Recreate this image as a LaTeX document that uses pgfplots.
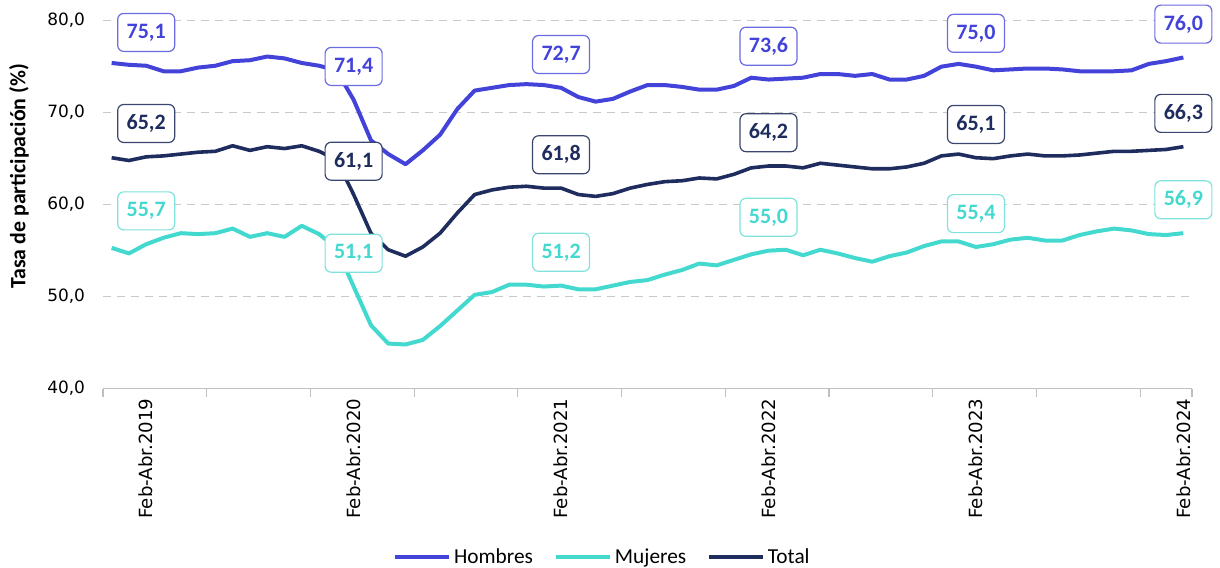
\documentclass[border=0pt]{standalone}
\usepackage{fontspec}
\setmainfont{Carlito}
\newfontfamily\tickfont{DejaVu Sans}
\usepackage{pgfplots}
\usepackage{pgfplotstable}
\pgfplotsset{compat=1.18}
\definecolor{hom}{HTML}{4343D9}
\definecolor{muj}{HTML}{44D9CF}
\definecolor{tot}{HTML}{1F2D5E}
\definecolor{homb}{HTML}{6B6BE3}
\definecolor{mujb}{HTML}{7FE3DC}
\definecolor{totb}{HTML}{3A4670}
\definecolor{gridc}{HTML}{C8C8C8}
\definecolor{axc}{HTML}{BFBFBF}

\pgfplotstableread{
x y
0 75.4
1 75.2
2 75.1
3 74.5
4 74.5
5 74.9
6 75.1
7 75.6
8 75.7
9 76.1
10 75.9
11 75.4
12 75.1
13 74.6
14 71.4
15 67.0
16 65.5
17 64.4
18 65.9
19 67.6
20 70.4
21 72.4
22 72.7
23 73.0
24 73.1
25 73.0
26 72.7
27 71.7
28 71.2
29 71.5
30 72.3
31 73.0
32 73.0
33 72.8
34 72.5
35 72.5
36 72.9
37 73.8
38 73.6
39 73.7
40 73.8
41 74.2
42 74.2
43 74.0
44 74.2
45 73.6
46 73.6
47 74.0
48 75.0
49 75.3
50 75.0
51 74.6
52 74.7
53 74.8
54 74.8
55 74.7
56 74.5
57 74.5
58 74.5
59 74.6
60 75.3
61 75.6
62 76.0
}\hombres

\pgfplotstableread{
x y
0 55.3
1 54.7
2 55.7
3 56.4
4 56.9
5 56.8
6 56.9
7 57.4
8 56.5
9 56.9
10 56.5
11 57.7
12 56.8
13 55.3
14 51.1
15 46.9
16 44.9
17 44.8
18 45.3
19 46.8
20 48.5
21 50.2
22 50.5
23 51.3
24 51.3
25 51.1
26 51.2
27 50.8
28 50.8
29 51.2
30 51.6
31 51.8
32 52.4
33 52.9
34 53.6
35 53.4
36 54.0
37 54.6
38 55.0
39 55.1
40 54.5
41 55.1
42 54.7
43 54.2
44 53.8
45 54.4
46 54.8
47 55.5
48 56.0
49 56.0
50 55.4
51 55.7
52 56.2
53 56.4
54 56.1
55 56.1
56 56.7
57 57.1
58 57.4
59 57.2
60 56.8
61 56.7
62 56.9
}\mujeres

\pgfplotstableread{
x y
0 65.1
1 64.8
2 65.2
3 65.3
4 65.5
5 65.7
6 65.8
7 66.4
8 65.9
9 66.3
10 66.1
11 66.4
12 65.8
13 64.9
14 61.1
15 56.9
16 55.1
17 54.4
18 55.4
19 56.9
20 59.1
21 61.1
22 61.6
23 61.9
24 62.0
25 61.8
26 61.8
27 61.1
28 60.9
29 61.2
30 61.8
31 62.2
32 62.5
33 62.6
34 62.9
35 62.8
36 63.3
37 64.0
38 64.2
39 64.2
40 64.0
41 64.5
42 64.3
43 64.1
44 63.9
45 63.9
46 64.1
47 64.5
48 65.3
49 65.5
50 65.1
51 65.0
52 65.3
53 65.5
54 65.3
55 65.3
56 65.4
57 65.6
58 65.8
59 65.8
60 65.9
61 66.0
62 66.3
}\total

\pgfplotstableread{
x y
2 75.1
14 71.4
26 72.7
38 73.6
50 75.0
62 76.0
}\lblhom

\pgfplotstableread{
x y
2 55.7
14 51.1
26 51.2
38 55.0
50 55.4
62 56.9
}\lblmuj

\pgfplotstableread{
x y
2 65.2
14 61.1
26 61.8
38 64.2
50 65.1
62 66.3
}\lbltot

\pgfplotsset{
  lblbox/.style n args={3}{
    forget plot, only marks, mark=none,
    nodes near coords={\pgfmathprintnumber[fixed,fixed zerofill,precision=1,use comma]{\pgfplotspointmeta}},
    every node near coord/.append style={anchor=center, yshift=25pt, draw=#2, fill=white, text=#1,
      font=\bfseries\fontsize{16.5}{18}\selectfont, rounded corners=4.5pt,
      minimum width=42.75pt, minimum height=28.5pt, line width=#3, inner sep=2pt}
  }
}

\begin{document}
\begin{tikzpicture}
\begin{axis}[
  name=ax,
  scale only axis,
  width=816.75pt, height=276pt,
  xmin=-0.5, xmax=62.5, ymin=40, ymax=80,
  clip=false,
  /pgf/number format/assume math mode=true,
  axis x line*=bottom, axis y line*=left,
  y axis line style={draw=none},
  x axis line style={draw=axc, line width=0.8pt, -},
  ytick={50,60,70,80},
  yticklabel={\pgfmathprintnumber[fixed,fixed zerofill,precision=1,use comma]{\tick}},
  extra y ticks={40},
  extra y tick style={grid=none, yticklabel={\pgfmathprintnumber[fixed,fixed zerofill,precision=1,use comma]{\tick}}},
  ymajorgrids,
  grid style={gridc, dash pattern=on 6pt off 4.5pt, line width=1.1pt},
  major tick length=0pt,
  tick style={draw=axc, line width=0.8pt},
  yticklabel style={font=\tickfont\fontsize{12.7}{15}\selectfont, black},
  xticklabel style={font=\tickfont\fontsize{13.6}{15}\selectfont, black, rotate=90, anchor=east},
  yticklabel shift=10pt,
  xtick={2,14,26,38,50,62},
  xticklabels={Feb-Abr.2019,Feb-Abr.2020,Feb-Abr.2021,Feb-Abr.2022,Feb-Abr.2023,Feb-Abr.2024},
  xticklabel shift=4pt,
  extra x ticks={-0.5,5.5,11.5,17.5,23.5,29.5,35.5,41.5,47.5,53.5,59.5,62.5},
  extra x tick labels={},
  extra x tick style={major tick length=6pt, tick align=outside},
  ylabel={Tasa de participación (\%)},
  ylabel style={font=\bfseries\fontsize{16.4}{18}\selectfont, at={(axis description cs:-0.0771,0.577)}, anchor=center},
  legend columns=3,
  legend style={draw=none, fill=none, at={(axis description cs:0.459,-0.457)}, anchor=center,
    font=\fontsize{16}{18}\selectfont,
    /tikz/every even column/.append style={column sep=14pt}},
  legend image code/.code={\draw[#1] (0pt,0pt) -- (40.5pt,0pt);},
]
\addplot[hom, line width=3pt, line join=round] table {\hombres};
\addlegendentry{Hombres}
\addplot[muj, line width=3pt, line join=round] table {\mujeres};
\addlegendentry{Mujeres}
\addplot[tot, line width=2.7pt, line join=round] table {\total};
\addlegendentry{Total}

\addplot[lblbox={hom}{homb}{0.9pt}] table {\lblhom};
\addplot[lblbox={muj}{mujb}{0.9pt}] table {\lblmuj};
\addplot[lblbox={tot}{totb}{0.9pt}] table {\lbltot};
\end{axis}
\pgfresetboundingbox
\path ([shift={(-77.25pt,-134.5pt)}]ax.south west) rectangle ([shift={(21pt,15.5pt)}]ax.north east);
\end{tikzpicture}
\end{document}
